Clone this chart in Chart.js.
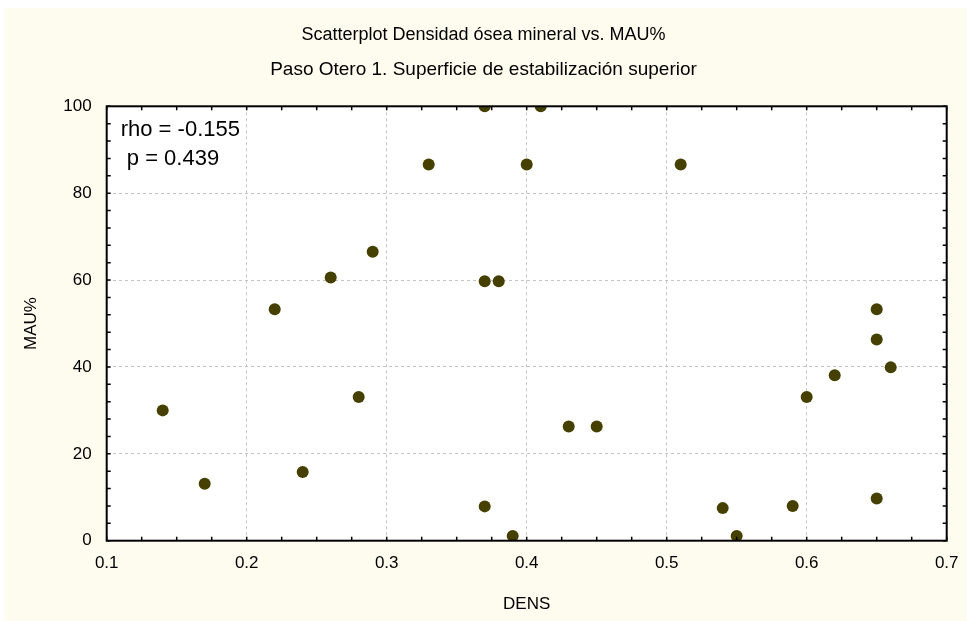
<!DOCTYPE html>
<html>
<head>
<meta charset="utf-8">
<title>Scatterplot Densidad ósea mineral vs. MAU%</title>
<script src="https://cdn.jsdelivr.net/npm/chart.js@4/dist/chart.umd.min.js"></script>
<style>
	html, body { margin: 0; padding: 0; background: #ffffff; }
	canvas { display: block; }
</style>
</head>
<body>
<canvas id="chart" width="967" height="621"></canvas>
<script>
// Data
var densValues = [0.14, 0.17, 0.22, 0.24, 0.26, 0.28, 0.29, 0.33, 0.37, 0.37, 0.37, 0.38, 0.39, 0.40,
	0.41, 0.43, 0.45, 0.51, 0.54, 0.55, 0.59, 0.60, 0.62, 0.65, 0.65, 0.65, 0.66];
var mauValues = [30.0, 13.1, 53.3, 15.8, 60.6, 33.1, 66.5, 86.6, 100, 59.7, 7.9, 59.7, 1.1, 86.6,
	100, 26.3, 26.3, 86.6, 7.5, 1.1, 8.0, 33.1, 38.1, 53.3, 46.3, 9.7, 39.9];
var xTickLabels = ["0.1", "0.2", "0.3", "0.4", "0.5", "0.6", "0.7"];
var yTickLabels = ["0", "20", "40", "60", "80", "100"];
var statLines = ["rho = -0.155", " p = 0.439"];

var chartTitle = "Scatterplot Densidad ósea mineral vs. MAU%";
var chartSubtitle = "Paso Otero 1. Superficie de estabilización superior";

var FONT = "'Liberation Sans', Arial, sans-serif";
var SIDE_PAD = 10.15;

// build point list for the scatter dataset
var points = [];
densValues.forEach(function(d, i) {
	points.push({ x: d, y: mauValues[i] });
});

// background: white strip on top/left, cream panel behind the chart
var backgroundPlugin = {
	id: "backgroundPlugin",
	beforeDraw: function(chart) {
		var ctx = chart.ctx;
		ctx.save();
		ctx.fillStyle = "#ffffff";
		ctx.fillRect(0, 0, chart.width, chart.height);
		ctx.fillStyle = "#fefcef";
		ctx.fillRect(5, 8, chart.width - 5, chart.height - 8);
		var a = chart.chartArea;
		ctx.fillStyle = "#ffffff";
		ctx.fillRect(a.left, a.top, a.right - a.left, a.bottom - a.top);
		ctx.restore();
	}
};

// frame around the plot, inward minor ticks and the rho / p text
var framePlugin = {
	id: "framePlugin",
	afterDatasetsDraw: function(chart) {
		var ctx = chart.ctx;
		var a = chart.chartArea;
		var xs = chart.scales.x;
		var ys = chart.scales.y;
		ctx.save();
		ctx.strokeStyle = "#000000";
		ctx.lineWidth = 1.5;

		// minor ticks on x (top and bottom)
		ctx.beginPath();
		for (var i = 0; i <= 24; i++) {
			var px = xs.getPixelForValue(0.1 + i * 0.025);
			ctx.moveTo(px, a.bottom);
			ctx.lineTo(px, a.bottom - 4);
			ctx.moveTo(px, a.top);
			ctx.lineTo(px, a.top + 4);
		}
		// minor ticks on y (left and right)
		for (var j = 0; j <= 25; j++) {
			var py = ys.getPixelForValue(j * 4);
			ctx.moveTo(a.left, py);
			ctx.lineTo(a.left + 4, py);
			ctx.moveTo(a.right, py);
			ctx.lineTo(a.right - 4, py);
		}
		ctx.stroke();

		// frame
		ctx.lineWidth = 2;
		ctx.strokeRect(a.left, a.top, a.right - a.left, a.bottom - a.top);

		// correlation text
		ctx.fillStyle = "#000000";
		ctx.font = "22px " + FONT;
		ctx.textBaseline = "middle";
		ctx.textAlign = "left";
		ctx.fillText(statLines[0], a.left + 14, a.top + 24);
		ctx.fillText(statLines[1], a.left + 14, a.top + 53);
		ctx.restore();
	}
};

var ctx = document.getElementById("chart");
var myChart = new Chart(ctx, {
	type: "scatter",
	data: {
		datasets: [{
			data: points,
			backgroundColor: "#454000",
			borderWidth: 0,
			pointRadius: 6,
			pointHoverRadius: 6,
			clip: 0
		}]
	},
	options: {
		responsive: false,
		animation: false,
		devicePixelRatio: 1,
		layout: {
			padding: { left: SIDE_PAD, right: SIDE_PAD, top: 0, bottom: 0 }
		},
		plugins: {
			legend: { display: false },
			tooltip: { enabled: false },
			title: {
				display: true,
				text: chartTitle,
				color: "#000000",
				font: { family: FONT, size: 18, weight: "normal", lineHeight: 1.2 },
				padding: { top: 24.2, bottom: 12.2 }
			},
			subtitle: {
				display: true,
				text: chartSubtitle,
				color: "#000000",
				font: { family: FONT, size: 19, weight: "normal", lineHeight: 1.2 },
				padding: { top: 0, bottom: 25.5 }
			}
		},
		scales: {
			x: {
				type: "linear",
				position: "bottom",
				min: 0.1,
				max: 0.7,
				afterFit: function(scale) {
					// plot frame ends 20.3px from the right edge
					scale.height = 80.3;
					scale.paddingLeft = 0;
					scale.paddingRight = 20.3;
				},
				afterBuildTicks: function(scale) {
					scale.ticks = xTickLabels.map(function(t) { return { value: parseFloat(t) }; });
				},
				ticks: {
					autoSkip: false,
					maxRotation: 0,
					padding: 12,
					color: "#000000",
					font: { family: FONT, size: 17 },
					callback: function(value, index) { return xTickLabels[index]; }
				},
				grid: { color: "#c4c4c4", lineWidth: 1, drawTicks: false },
				border: { display: false, dash: [3, 3] },
				title: {
					display: true,
					text: "DENS",
					color: "#000000",
					font: { family: FONT, size: 17 },
					padding: { top: 0, bottom: 6 }
				}
			},
			y: {
				type: "linear",
				position: "left",
				min: 0,
				max: 100,
				afterFit: function(scale) {
					scale.width = 106.7 - SIDE_PAD;
					scale.paddingTop = 0;
					scale.paddingBottom = 0;
				},
				afterBuildTicks: function(scale) {
					scale.ticks = yTickLabels.map(function(t) { return { value: parseFloat(t) }; });
				},
				ticks: {
					autoSkip: false,
					padding: 15,
					color: "#000000",
					font: { family: FONT, size: 17 },
					callback: function(value, index) { return yTickLabels[index]; }
				},
				grid: { color: "#c4c4c4", lineWidth: 1, drawTicks: false },
				border: { display: false, dash: [3, 3] },
				title: {
					display: true,
					text: "MAU%",
					color: "#000000",
					font: { family: FONT, size: 17 },
					padding: { top: 21 - SIDE_PAD, bottom: 0 }
				}
			}
		}
	},
	plugins: [backgroundPlugin, framePlugin]
});
</script>
</body>
</html>
